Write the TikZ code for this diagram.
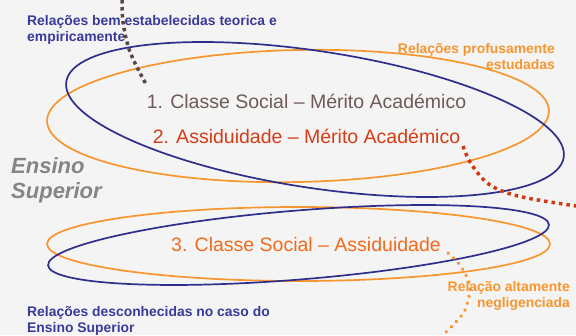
\documentclass[tikz,border=0pt]{standalone}
\usepackage{fontspec}
\setmainfont{Liberation Sans}
\definecolor{bgc}{HTML}{F4F4F4}
\definecolor{ellblue}{HTML}{2E2E8C}
\definecolor{ellorange}{HTML}{F7962F}
\definecolor{txtone}{HTML}{6E5B57}
\definecolor{txttwo}{HTML}{D63C16}
\definecolor{txtthree}{HTML}{F26A1B}
\definecolor{grayside}{HTML}{858585}
\definecolor{lblblue}{HTML}{3A3A9A}
\definecolor{dotbrown}{HTML}{5B4845}
\definecolor{dotred}{HTML}{D03A10}
\tikzset{
  ringblue/.style={draw=ellblue, line width=1.7pt},
  ringorange/.style={draw=ellorange, line width=1.7pt},
  bigtext/.style={inner sep=0pt, font=\fontsize{19.5}{23}\selectfont},
  sidetext/.style={inner sep=0pt, anchor=base west, text=grayside, font=\fontsize{22}{25}\selectfont\bfseries\itshape},
  smalllbl/.style={inner sep=0pt, font=\fontsize{13.9}{16}\selectfont\bfseries},
  dotline/.style={line width=3.5pt, dash pattern=on 3.5pt off 3.5pt},
}
\begin{document}
\begin{tikzpicture}[x=1pt, y=-1pt]
\fill[bgc] (0,0) rectangle (576,335);
\useasboundingbox (0,0) rectangle (576,335);
% ellipses
\draw[ringorange, rotate around={1.2:(298,116)}] (298,116) ellipse [x radius=251pt, y radius=66pt];
\draw[ringblue, rotate around={-8.65:(315,119.5)}] (315,119.5) ellipse [x radius=251.6pt, y radius=68.4pt];
\draw[ringorange] (298.5,244) ellipse [x radius=251.5pt, y radius=37pt];
\draw[ringblue, rotate around={4.65:(298.5,245)}] (298.5,245) ellipse [x radius=251.3pt, y radius=34.5pt];
% main texts
\node[bigtext, anchor=base, text=txtone] (rel1) at (306.5,108) {1. Classe Social – Mérito Académico};
\node[bigtext, anchor=base, text=txttwo] (rel2) at (306.5,143) {2. Assiduidade – Mérito Académico};
\node[bigtext, anchor=base, text=txtthree] (rel3) at (306,251) {3. Classe Social – Assiduidade};
% side text
\node[sidetext] (ens1) at (11,173) {Ensino};
\node[sidetext] (ens2) at (11,198) {Superior};
% labels
\node[smalllbl, anchor=base west, text=lblblue] (tl1) at (27,25) {Relações bem estabelecidas teorica e};
\node[smalllbl, anchor=base west, text=lblblue] (tl2) at (27,41.7) {empiricamente};
\node[smalllbl, anchor=base east, text=ellorange] (tr1) at (555,53.3) {Relações profusamente};
\node[smalllbl, anchor=base east, text=ellorange] (tr2) at (555,69.5) {estudadas};
\node[smalllbl, anchor=base east, text=ellorange] (br1) at (570,291.7) {Relação altamente};
\node[smalllbl, anchor=base east, text=ellorange] (br2) at (570,307) {negligenciada};
\node[smalllbl, anchor=base west, text=lblblue] (bl1) at (27,316.5) {Relações desconhecidas no caso do};
\node[smalllbl, anchor=base west, text=lblblue] (bl2) at (27,332.5) {Ensino Superior};
% dotted lines
\draw[dotline, dotbrown] plot[smooth, tension=0.6] coordinates {(122,0) (123,22) (128,46) (134,61) (140,73) (147,86)};
\draw[dotline, dotred, dash pattern=on 3.5pt off 4pt] plot[smooth, tension=0.6] coordinates {(463,146) (470,162) (485,181) (502,191) (527,198) (576,206)};
\draw[line width=3.2pt, ellorange, line cap=round, dash pattern=on 0.6pt off 6.6pt] plot[smooth, tension=0.6] coordinates {(448,253) (460,265) (468,280) (470,290) (465,310) (455,323) (442,336)};
\end{tikzpicture}
\end{document}
